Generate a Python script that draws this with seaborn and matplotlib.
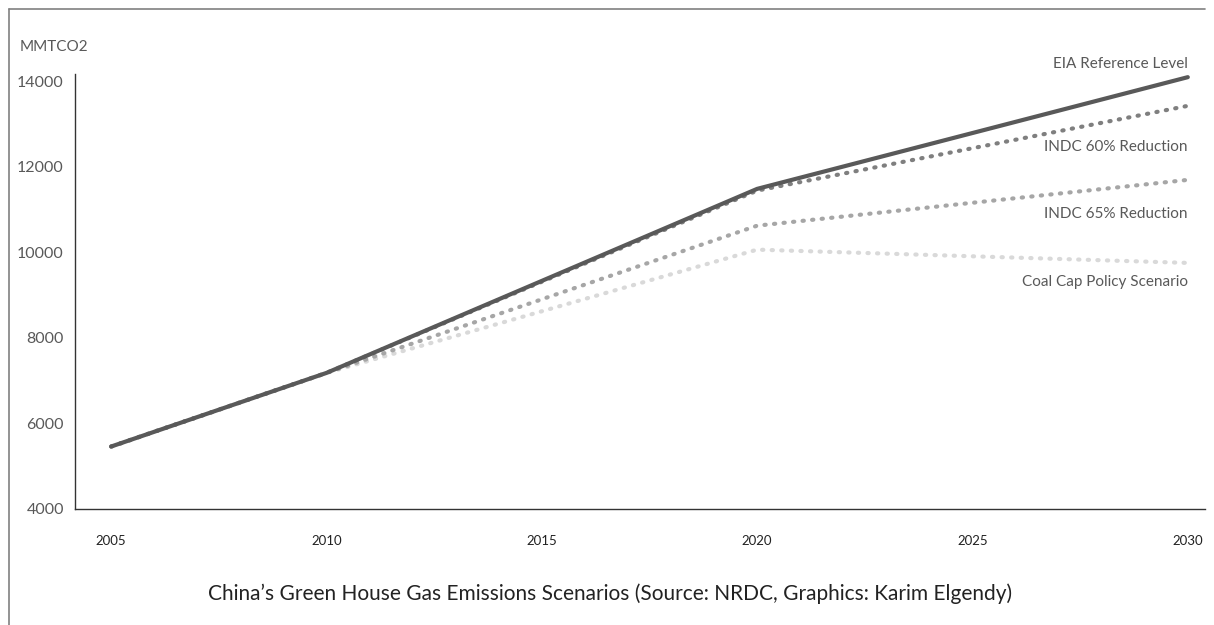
import matplotlib.pyplot as plt
from matplotlib.lines import Line2D
import pandas as pd
import seaborn as sns

# values (MMTCO2)
years = [2005, 2010, 2020, 2030]
eia_reference = [5460, 7180, 11480, 14090]
indc_60 = [5460, 7180, 11440, 13420]
indc_65 = [5460, 7180, 10620, 11690]
coal_cap = [5460, 7180, 10060, 9750]

scenarios = ["Coal Cap Policy Scenario", "INDC 65% Reduction",
             "INDC 60% Reduction", "EIA Reference Level"]
series = [coal_cap, indc_65, indc_60, eia_reference]
colors = ["#d9d9d9", "#a6a6a6", "#7f7f7f", "#595959"]
label_y = [9300, 10900, 12450, 14400]

df = pd.DataFrame(
    [(y, v, s) for s, vals in zip(scenarios, series) for y, v in zip(years, vals)],
    columns=["year", "value", "scenario"],
)

sns.set_style("white")
plt.rcParams["font.family"] = ["Lato", "DejaVu Sans"]

fig = plt.figure(figsize=(12.14, 6.25), dpi=100)
ax = fig.add_axes([0.0618, 0.1856, 0.9308, 0.696])

sns.lineplot(
    data=df, x="year", y="value", hue="scenario", style="scenario",
    hue_order=scenarios, style_order=scenarios,
    palette=dict(zip(scenarios, colors)),
    dashes={s: (0.3, 2.0) for s in scenarios[:3]} | {scenarios[3]: ""},
    linewidth=3, legend=False, ax=ax,
)
for line in ax.lines:
    line.set_dash_capstyle("round")
    line.set_solid_capstyle("round")

ax.set_xlim(2004.16, 2030.4)
ax.set_ylim(4000, 14164)
ax.set_xticks([2005, 2010, 2015, 2020, 2025, 2030])
ax.set_yticks(range(4000, 14001, 2000))
ax.set_xlabel("")
ax.set_ylabel("")
ax.tick_params(axis="y", length=0, pad=8, labelsize=11.5, labelcolor="#595959")
ax.tick_params(axis="x", length=0, pad=19, labelsize=9.5, labelcolor="#222222")
for side in ["top", "right"]:
    ax.spines[side].set_visible(False)
for side in ["left", "bottom"]:
    ax.spines[side].set_color("#333333")
    ax.spines[side].set_linewidth(1.0)

for s, ly in zip(scenarios, label_y):
    ax.text(2030, ly, s, ha="right", va="center", fontsize=11, color="#595959")

fig.text(20 / 1214, 1 - 47 / 625, "MMTCO2", fontsize=11, color="#595959",
         ha="left", va="center")
fig.text(610 / 1214, 1 - 594 / 625,
         "China\u2019s Green House Gas Emissions Scenarios (Source: NRDC, Graphics: Karim Elgendy)",
         fontsize=15, color="#222222", ha="center", va="center")

# outer frame (top and left edges)
fig.add_artist(Line2D([9 / 1214, 9 / 1214], [0, 1 - 9 / 625],
                      transform=fig.transFigure, color="#808080", lw=1.2))
fig.add_artist(Line2D([9 / 1214, 1205 / 1214], [1 - 9 / 625, 1 - 9 / 625],
                      transform=fig.transFigure, color="#808080", lw=1.2))

fig.savefig("out.png", dpi=100)
